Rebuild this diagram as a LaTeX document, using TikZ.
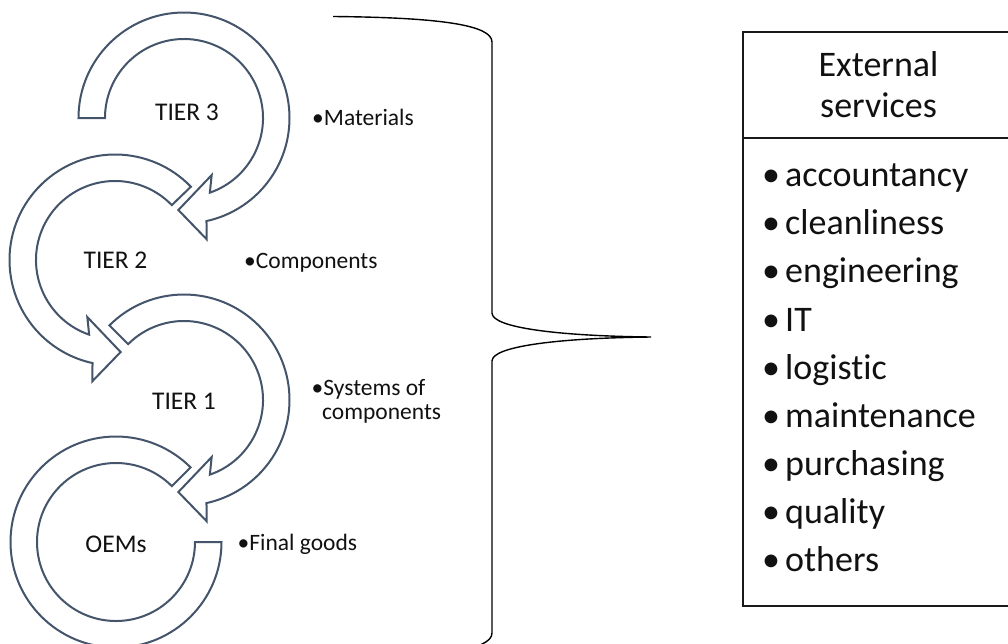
\documentclass[tikz,border=0pt]{standalone}
\usepackage{fontspec}
\setmainfont[Ligatures=NoCommon]{Carlito}
\definecolor{arrowc}{HTML}{44546A}
\definecolor{txt}{HTML}{111111}
\tikzset{
  ringarrow/.style={draw=arrowc, line width=2pt, fill=white, line join=miter},
  tiertext/.style={anchor=base, inner sep=0pt, text=txt, font=\fontsize{25.5}{30}\selectfont},
  sidetext/.style={anchor=base west, inner sep=0pt, text=txt, font=\fontsize{23.5}{28}\selectfont},
  hdrtext/.style={anchor=base, inner sep=0pt, text=txt, font=\fontsize{36}{40}\selectfont},
  itemtext/.style={anchor=base west, inner sep=0pt, text=txt, font=\fontsize{36}{44}\selectfont},
  bracepath/.style={draw=black, line width=1.4pt},
  boxline/.style={draw=black!90, line width=1.8pt}
}
\begin{document}
\begin{tikzpicture}[x=1pt,y=1pt]
\useasboundingbox (0,0) rectangle (1008,-643);
\clip (0,0) rectangle (1008,-643);

% TIER 3 ring arrow (clockwise from left)
\begin{scope}[shift={(184,-118)}]
\draw[ringarrow] (180:105.5) arc[start angle=180, end angle=-77.7, radius=105.5]
  -- (-79.4:123.4) -- (-93.5:92.2) -- (-64.1:63.4) -- (-70.9:79)
  arc[start angle=-70.9, end angle=180, radius=79] -- cycle;
\end{scope}
% TIER 2 ring arrow (counter-clockwise)
\begin{scope}[shift={(115,-260)}]
\draw[ringarrow] (44:105.5) arc[start angle=44, end angle=257.7, radius=105.5]
  -- (259.4:123.4) -- (273.5:92.2) -- (244.1:63.4) -- (250.9:79)
  arc[start angle=250.9, end angle=44, radius=79] -- cycle;
\end{scope}
% TIER 1 ring arrow
\begin{scope}[shift={(184,-400)}]
\draw[ringarrow] (135:105.5) arc[start angle=135, end angle=-77.7, radius=105.5]
  -- (-79.4:123.4) -- (-93.5:92.2) -- (-64.1:63.4) -- (-70.9:79)
  arc[start angle=-70.9, end angle=135, radius=79] -- cycle;
\end{scope}
% OEMs ring (no head)
\begin{scope}[shift={(116,-542)}]
\draw[ringarrow] (0:105.5) arc[start angle=0, end angle=-315, radius=105.5]
  -- (45:79) arc[start angle=45, end angle=360, radius=79] -- cycle;
\end{scope}

% ring labels
\node[tiertext] (t3) at (187,-120) {TIER 3};
\node[tiertext] (t2) at (115.5,-268) {TIER 2};
\node[tiertext] (t1) at (184,-409) {TIER 1};
\node[tiertext] (oem) at (116,-552) {OEMs};

% side labels
\node[sidetext] (lmat) at (312,-125.5) {•Materials};
\node[sidetext] (lcomp) at (244,-268) {•Components};
\node[sidetext] (lsys) at (311.5,-395) {•Systems of};
\node[sidetext] (lsys2) at (322,-419) {components};
\node[sidetext] (lfin) at (237.5,-550) {•Final goods};

% brace
\draw[bracepath] (333,-16.5) .. controls (440,-17.5) and (492,-25) .. (492,-42)
  -- (492,-313) .. controls (492,-328) and (560,-336) .. (651,-337)
  .. controls (560,-338) and (492,-346) .. (492,-361)
  -- (492,-633) .. controls (492,-650) and (440,-657.5) .. (333,-658.5);

% external services box
\draw[boxline] (743,-32) rectangle (1015,-606);
\draw[boxline] (743,-138.3) -- (1015,-138.3);
\node[hdrtext] (h1) at (878.5,-76.7) {External};
\node[hdrtext] (h2) at (878.5,-117.3) {services};
\foreach \t [count=\i] in {accountancy,cleanliness,engineering,IT,logistic,maintenance,purchasing,quality,others}
  \node[itemtext] (s\i) at (762,{-186.7-48.1*(\i-1)}) {\makebox[23pt][l]{•}\t};
\end{tikzpicture}
\end{document}
